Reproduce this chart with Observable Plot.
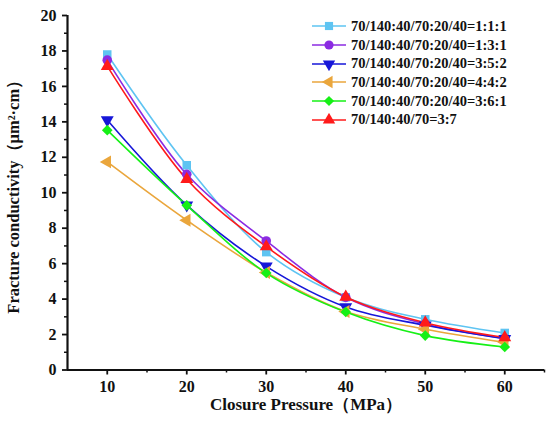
<!DOCTYPE html>
<html>
<head>
<meta charset="utf-8">
<script src="https://cdn.jsdelivr.net/npm/d3@7"></script>
<script src="https://cdn.jsdelivr.net/npm/@observablehq/plot@0.6"></script>
<style>
  html, body { margin: 0; padding: 0; background: #fff; }
  #wrap { position: relative; width: 550px; height: 428px; font-family: "Liberation Serif", "Times New Roman", serif; }
  #legend { position: absolute; left: 311px; top: 17px; font-weight: bold; font-size: 14.5px; color: #111; }
  .row { display: flex; align-items: center; height: 18.7px; }
  .row svg { margin-right: 4px; }
</style>
</head>
<body>
<div id="wrap"></div>
<script>
const pressure = [10, 20, 30, 40, 50, 60];
const seriesNames = [
  "70/140:40/70:20/40=1:1:1",
  "70/140:40/70:20/40=1:3:1",
  "70/140:40/70:20/40=3:5:2",
  "70/140:40/70:20/40=4:4:2",
  "70/140:40/70:20/40=3:6:1",
  "70/140:40/70=3:7"
];
const s111 = [17.8, 11.55, 6.65, 4.1, 2.86, 2.09];
const s131 = [17.48, 11.04, 7.28, 4.1, 2.6, 1.78];
const s352 = [14.1, 9.3, 5.85, 3.56, 2.52, 1.76];
const s442 = [11.74, 8.45, 5.5, 3.3, 2.3, 1.56];
const s361 = [13.53, 9.29, 5.47, 3.27, 1.94, 1.3];
const s37  = [17.14, 10.76, 6.96, 4.12, 2.67, 1.83];
const seriesValues = [s111, s131, s352, s442, s361, s37];
const colors = ["#5ec4f2", "#8b2be2", "#1616d8", "#eaa63c", "#16f016", "#ff1a1a"];
const symbols = ["square", "circle", "triangle", "triangle", "diamond2", "triangle"];
const rotations = [0, 0, 180, -90, 0, 0];
const yTicks = d3.range(0, 21, 2);
const yMinor = d3.range(1, 20, 2);
const xTicks = [10, 20, 30, 40, 50, 60];
const xMinor = [15, 25, 35, 45, 55, 65];

const data = [];
seriesNames.forEach((name, i) => {
  pressure.forEach((p, j) => data.push({series: name, idx: i, x: p, y: seriesValues[i][j]}));
});

const marks = [];
seriesNames.forEach((name, i) => {
  const d = data.filter(r => r.idx === i);
  marks.push(Plot.line(d, {x: "x", y: "y", stroke: colors[i], strokeWidth: 1.6, curve: "catmull-rom"}));
});
seriesNames.forEach((name, i) => {
  const d = data.filter(r => r.idx === i);
  marks.push(Plot.dot(d, {x: "x", y: "y", fill: colors[i], stroke: "none", symbol: () => symbols[i], rotate: rotations[i], r: 4.8}));
});

const chart = Plot.plot({
  width: 550,
  height: 428,
  marginLeft: 67,
  marginRight: 6,
  marginTop: 15,
  marginBottom: 58.5,
  style: {fontFamily: "Liberation Serif, Times New Roman, serif", fontWeight: "bold", fontSize: "16px", color: "#111", background: "#fff"},
  x: {domain: [5, 65]},
  y: {domain: [0, 20]},
  symbol: {type: "identity"},
  marks: [
    Plot.axisY({ticks: yTicks, tickSize: 5, tickPadding: 6, label: null, fontSize: 16, fontWeight: "bold", strokeWidth: 1.8}),
    Plot.axisY({ticks: [], label: "Fracture conductivity（μm²·cm）", labelAnchor: "center", labelArrow: "none", labelOffset: 60, fontSize: 16.5, fontWeight: "bold"}),
    Plot.axisY({ticks: yMinor, tickSize: 3, text: null, label: null, strokeWidth: 1.5}),
    Plot.axisX({ticks: xTicks, tickSize: 5, tickPadding: 6, label: null, fontSize: 16, fontWeight: "bold", strokeWidth: 1.8}),
    Plot.axisX({ticks: [], label: "Closure Pressure（MPa）", labelAnchor: "center", labelArrow: "none", labelOffset: 40, fontSize: 17, fontWeight: "bold"}),
    Plot.axisX({ticks: xMinor, tickSize: 3, text: null, label: null, strokeWidth: 1.5}),
    Plot.ruleX([5], {strokeWidth: 2.2, stroke: "#111"}),
    Plot.ruleY([0], {strokeWidth: 2.2, stroke: "#111"}),
    ...marks
  ]
});

const wrap = document.getElementById("wrap");
wrap.appendChild(chart);

// legend
const legend = document.createElement("div");
legend.id = "legend";
const symMap = {square: d3.symbolSquare, circle: d3.symbolCircle, triangle: d3.symbolTriangle, diamond2: d3.symbolDiamond2};
seriesNames.forEach((name, i) => {
  const row = document.createElement("div");
  row.className = "row";
  const s = d3.create("svg").attr("width", 36).attr("height", 14);
  s.append("line").attr("x1", 1).attr("x2", 35).attr("y1", 7).attr("y2", 7).attr("stroke", colors[i]).attr("stroke-width", 1.6);
  s.append("path").attr("d", d3.symbol(symMap[symbols[i]], Math.PI * 4.6 * 4.6)())
    .attr("transform", `translate(18,7) rotate(${rotations[i]})`).attr("fill", colors[i]);
  row.appendChild(s.node());
  const t = document.createElement("span");
  t.textContent = name;
  row.appendChild(t);
  legend.appendChild(row);
});
wrap.appendChild(legend);
</script>
</body>
</html>
